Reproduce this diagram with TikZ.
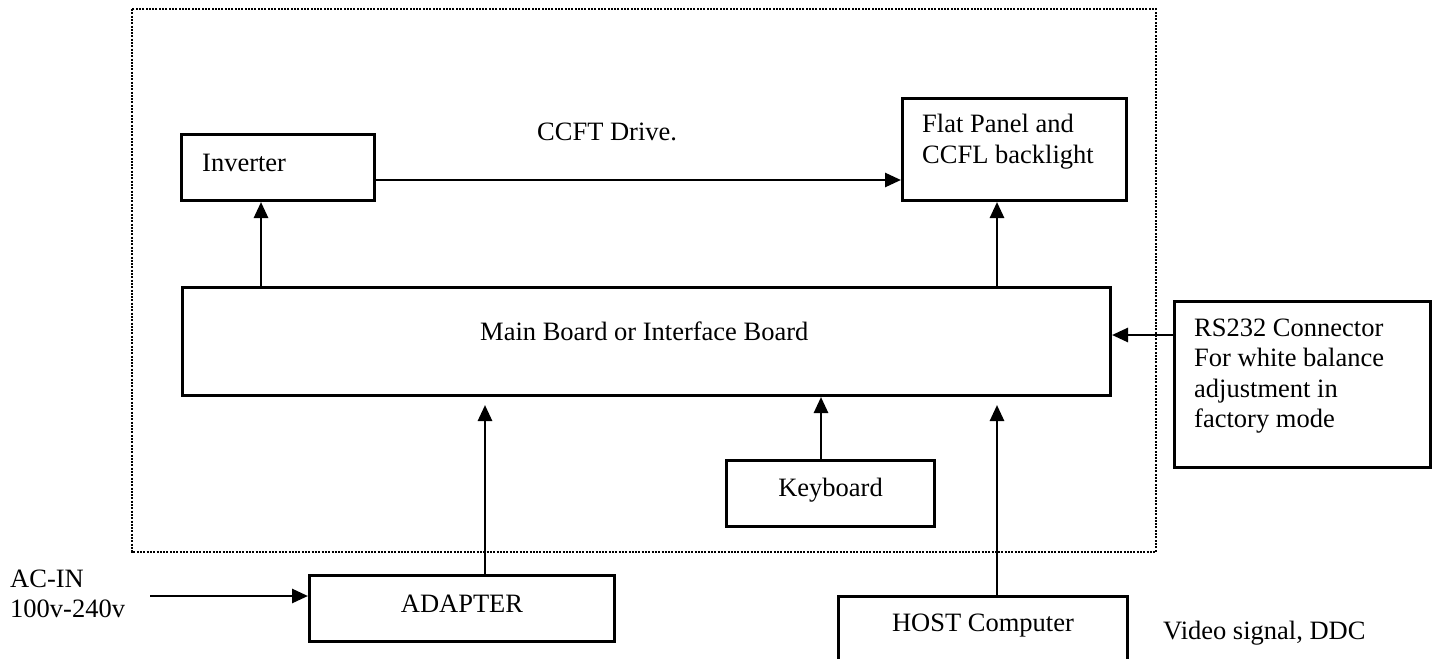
\documentclass[tikz,border=0pt]{standalone}
\usepackage{fontspec}
\setmainfont{Liberation Serif}
\usetikzlibrary{arrows.meta,calc}

\begin{document}
\begin{tikzpicture}[x=1pt,y=-1pt,
  box/.style={draw, line width=3pt, rectangle, inner sep=0pt, anchor=north west},
  txt/.style={inner sep=0pt, font=\fontsize{26.5pt}{30.5pt}\selectfont},
  arr/.style={line width=2.7pt, -{Triangle[length=16pt,width=14pt]}},
  dotframe/.style={line width=2.5pt, dash pattern=on 2pt off 1.3pt}
]
% page area
\path[use as bounding box, fill=white] (0,0) rectangle (1436,659);
\clip (0,0) rectangle (1436,659);

% monitor enclosure
\draw[dotframe] (132,9) rectangle (1156,552);

% blocks
\node[box, minimum width=193, minimum height=66] (inv) at (180,133) {};
\node[box, minimum width=224, minimum height=102] (flat) at (901,97) {};
\node[box, minimum width=928, minimum height=108] (main) at (181,286) {};
\node[box, minimum width=256, minimum height=166] (rs) at (1173,300) {};
\node[box, minimum width=208, minimum height=66] (kbd) at (725,459) {};
\node[box, minimum width=305, minimum height=66] (adapter) at (308,574) {};
\node[box, minimum width=289, minimum height=68] (host) at (837,595) {};

% texts
\node[txt, anchor=base west] (invtxt) at (202,171) {Inverter};
\node[txt, anchor=base west] (drive) at (537,140) {CCFT Drive.};
\node[txt, anchor=north west, align=left] (flattxt) at (922,114) {Flat Panel and\\CCFL backlight};
\node[txt, anchor=base west] (maintxt) at (480,340) {Main Board or Interface Board};
\node[txt, anchor=north west, align=left] (rstxt) at (1194,318.5) {RS232 Connector\\For white balance\\adjustment in\\factory mode};
\node[txt, anchor=base] (kbdtxt) at (kbd.center |- 0,496) {Keyboard};
\node[txt, anchor=base] (adtxt) at (adapter.center |- 0,612) {ADAPTER};
\node[txt, anchor=base] (hosttxt) at (host.center |- 0,631) {HOST Computer};
\node[txt, anchor=base west] (video) at (1163,639) {Video signal, DDC};
\node[txt, anchor=north west, align=left] (actxt) at (10,569.5) {AC-IN\\100v-240v};

% connector positions
\coordinate (xinv) at (261,0);
\coordinate (xflat) at (997,0);
\coordinate (xad) at (485,0);
\coordinate (xkb) at (821,0);
\coordinate (yrs) at (0,335);
\coordinate (acstart) at (150,596);

% connectors
\draw[arr] ($(inv.south east)+(0,-22)$) -- ($(flat.south west)+(0,-22)$);
\draw[arr] (main.north -| xinv) -- (inv.south -| xinv);
\draw[arr] (main.north -| xflat) -- (flat.south -| xflat);
\draw[arr] (rs.west |- yrs) -- (main.east |- yrs);
\draw[arr] (kbd.north -| xkb) -- (main.south -| xkb);
\draw[arr, shorten >=8pt] (adapter.north -| xad) -- (main.south -| xad);
\draw[arr, shorten >=8pt] (host.north -| xflat) -- (main.south -| xflat);
\draw[arr] (acstart) -- (adapter.west |- acstart);
\end{tikzpicture}
\end{document}
